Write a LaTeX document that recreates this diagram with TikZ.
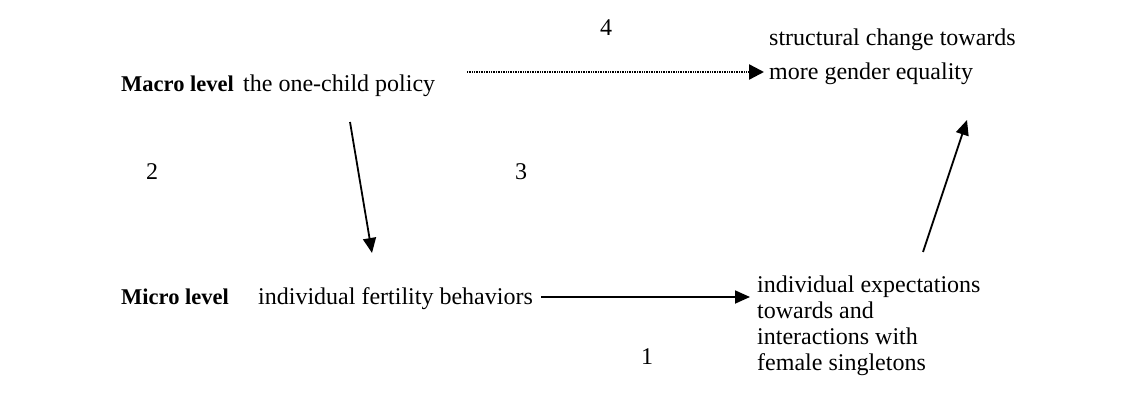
\documentclass[tikz,border=0pt]{standalone}
\usepackage{fontspec}
\setmainfont{Liberation Serif}
\usetikzlibrary{arrows.meta}
\begin{document}
\begin{tikzpicture}[x=1pt,y=-1pt,
  txt/.style={inner sep=0pt, anchor=west, font=\fontsize{24}{26}\selectfont},
  line/.style={txt, anchor=base west},
  lvl/.style={inner sep=0pt, anchor=base west, font=\fontsize{22.5}{26}\selectfont\bfseries},
  num/.style={inner sep=0pt, font=\fontsize{24}{26}\selectfont},
  link/.style={line width=1.8pt, -{Triangle[length=15pt,width=13pt]}},
  dotlink/.style={line width=2.4pt, dash pattern=on 1pt off 0.7pt,
    -{Triangle[length=15pt,width=15pt]}}]
\useasboundingbox (0,0) rectangle (1122,409);
% level labels
\node[lvl] (macro) at (121,92) {Macro level};
\node[lvl] (micro) at (121,304) {Micro level};
% macro row
\node[line] (policy) at (243,92) {the one-child policy};
\node[txt, align=left, font=\fontsize{24}{34}\selectfont] (struct) at (769,57)
  {structural change towards\\more gender equality};
% micro row
\node[line] (fert) at (258,304) {individual fertility behaviors};
\node[txt, align=left] (expect) at (757,326)
  {individual expectations\\towards and\\interactions with\\female singletons};
% path numbers
\node[num] (n1) at (647,357) {1};
\node[num] (n2) at (152,172) {2};
\node[num] (n3) at (521,172) {3};
\node[num] (n4) at (606,28) {4};
% connectors
\draw[dotlink] ([shift={(224,-20)}]policy.base west) -- ([shift={(-5,15)}]struct.west);
\draw[link] ([shift={(107,30)}]policy.base west) -- ([shift={(114,-51)}]fert.base west);
\draw[link] ([shift={(283,-7)}]fert.base west) -- ([shift={(-7,-29)}]expect.west);
\draw[link] ([shift={(166,-74)}]expect.west) -- ([shift={(198,63)}]struct.west);
\end{tikzpicture}
\end{document}
